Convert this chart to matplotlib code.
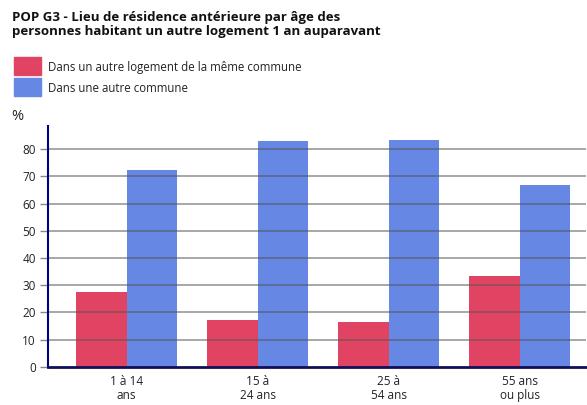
import matplotlib
matplotlib.use("Agg")
import matplotlib.pyplot as plt
import numpy as np

plt.rcParams['font.family'] = ['Open Sans', 'DejaVu Sans']

categories = ["1 à 14\nans", "15 à\n24 ans", "25 à\n54 ans", "55 ans\nou plus"]
meme_commune = [27.5, 17.2, 16.4, 33.3]
autre_commune = [72.3, 83.0, 83.3, 66.8]
series_names = ["Dans un autre logement de la même commune", "Dans une autre commune"]
yticks = [0, 10, 20, 30, 40, 50, 60, 70, 80]

red = "#E04462"
blue = "#6687E3"

fig = plt.figure(figsize=(5.87, 4.05), dpi=100)
W, H = 587, 405
ax_left, ax_right, ax_top, ax_bottom = 48.3, 586, 126, 366.7
ax = fig.add_axes([ax_left / W, 1 - ax_bottom / H, (ax_right - ax_left) / W, (ax_bottom - ax_top) / H])

x = np.arange(len(categories))
bw = 0.385
ax.bar(x - bw / 2, meme_commune, width=bw, color=red, zorder=2, linewidth=0)
ax.bar(x + bw / 2, autre_commune, width=bw, color=blue, zorder=2, linewidth=0)

ax.set_xlim(-0.598, 3.506)
ax.set_ylim(0, 88.5)
ax.set_yticks(yticks)
ax.set_yticklabels([str(v) for v in yticks], fontsize=8.5, color="#222222")
ax.set_xticks(x)
ax.set_xticklabels(categories, fontsize=8.5, color="#222222", linespacing=1.1)
ax.tick_params(axis='y', length=6, color="#888888", width=1, pad=3)
ax.tick_params(axis='x', length=0, pad=6)
for v in yticks[1:]:
    ax.axhline(v, color="#555555", alpha=0.6, linewidth=1.2, zorder=3)

for s in ["top", "right"]:
    ax.spines[s].set_visible(False)
ax.spines["left"].set_color("#000080")
ax.spines["left"].set_linewidth(1.5)
ax.spines["bottom"].set_color("#10105a")
ax.spines["bottom"].set_linewidth(2)
ax.spines["left"].set_zorder(4)
ax.spines["bottom"].set_zorder(4)

fig.text(12 / W, 1 - 11 / H, "POP G3 - Lieu de résidence antérieure par âge des\npersonnes habitant un autre logement 1 an auparavant",
         fontsize=9.5, fontweight="bold", va="top", ha="left", color="#111111", linespacing=1.15)

for i, (name, col) in enumerate(zip(series_names, [red, blue])):
    y0 = 57 + i * 21
    fig.patches.append(plt.Rectangle((14 / W, 1 - (y0 + 18) / H), 27 / W, 18 / H,
                                     transform=fig.transFigure, color=col, figure=fig))
    fig.text(48 / W, 1 - (y0 + 11) / H, name, fontsize=8.3, va="center", ha="left", color="#222222")

fig.text(11 / W, 1 - 116 / H, "%", fontsize=10.5, va="center", ha="left", color="#222222")

fig.savefig("out.png", dpi=100)
